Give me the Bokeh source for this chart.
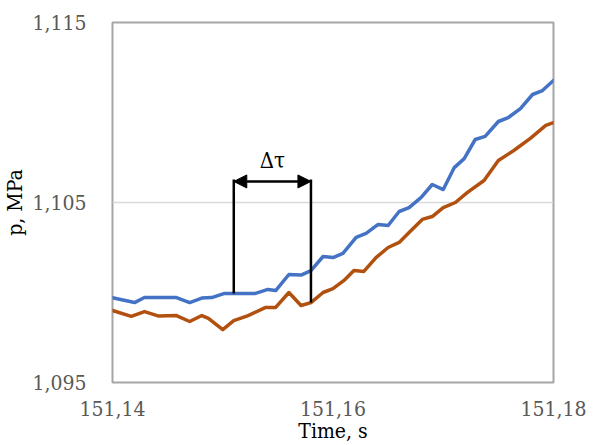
import numpy as np
from bokeh.plotting import figure
from bokeh.models import (ColumnDataSource, FixedTicker, CustomJSTickFormatter,
                          Arrow, NormalHead, Label)
from bokeh.embed import file_html
from bokeh.resources import INLINE

# Pressure traces, time in s, pressure in MPa
t_upper = [151.1400, 151.1420, 151.1429, 151.1458, 151.1470, 151.1481, 151.1490,
           151.1501, 151.1529, 151.1541, 151.1548, 151.1560, 151.1571, 151.1580,
           151.1591, 151.1600, 151.1609, 151.1621, 151.1630, 151.1641, 151.1650,
           151.1660, 151.1669, 151.1680, 151.1690, 151.1700, 151.1710, 151.1719,
           151.1729, 151.1738, 151.1750, 151.1759, 151.1770, 151.1781, 151.1790,
           151.1800]
p_upper = [1.09971, 1.09944, 1.09972, 1.09972, 1.09944, 1.09969, 1.09972,
           1.09994, 1.09994, 1.10017, 1.10011, 1.10100, 1.10097, 1.10122,
           1.10200, 1.10194, 1.10217, 1.10306, 1.10328, 1.10378, 1.10372,
           1.10450, 1.10472, 1.10528, 1.10600, 1.10572, 1.10694, 1.10744,
           1.10850, 1.10867, 1.10950, 1.10972, 1.11022, 1.11100, 1.11122,
           1.11178]

t_lower = [151.1400, 151.1417, 151.1429, 151.1442, 151.1458, 151.1470, 151.1481,
           151.1487, 151.1500, 151.1510, 151.1523, 151.1539, 151.1548, 151.1560,
           151.1571, 151.1580, 151.1591, 151.1600, 151.1610, 151.1619, 151.1628,
           151.1639, 151.1650, 151.1660, 151.1669, 151.1681, 151.1690, 151.1700,
           151.1711, 151.1722, 151.1737, 151.1750, 151.1764, 151.1779, 151.1793,
           151.1800]
p_lower = [1.09900, 1.09867, 1.09894, 1.09869, 1.09872, 1.09839, 1.09872,
           1.09856, 1.09794, 1.09844, 1.09872, 1.09917, 1.09917, 1.10000,
           1.09928, 1.09944, 1.10000, 1.10022, 1.10067, 1.10122, 1.10117,
           1.10194, 1.10250, 1.10278, 1.10333, 1.10406, 1.10422, 1.10472,
           1.10500, 1.10556, 1.10622, 1.10733, 1.10789, 1.10856, 1.10928,
           1.10944]

# Delay marker: starts on the upper trace, ends on the lower trace
tau_start = 151.1510
tau_end = 151.1580
tau_top = 1.10628
tau_arrow = 1.10617
tau_text = 1.10665

x_ticks = [151.14, 151.16, 151.18]
y_ticks = [1.095, 1.105, 1.115]

SERIF = "DejaVu Serif Condensed"

p = figure(width=595, height=445, x_range=(151.14, 151.18), y_range=(1.095, 1.115),
           output_backend="svg", toolbar_location=None,
           min_border_left=111, min_border_right=42, min_border_top=22,
           min_border_bottom=63)

p.background_fill_color = "white"
p.border_fill_color = "white"
p.outline_line_color = "#a6a6a6"
p.outline_line_width = 2

# axes: fixed ticks, decimal comma
p.xaxis.ticker = FixedTicker(ticks=x_ticks)
p.yaxis.ticker = FixedTicker(ticks=y_ticks)
p.xaxis.formatter = CustomJSTickFormatter(code="return tick.toFixed(2).replace('.', ',');")
p.yaxis.formatter = CustomJSTickFormatter(code="return tick.toFixed(3).replace('.', ',');")

for ax in (p.xaxis, p.yaxis):
    ax.axis_line_color = None
    ax.major_tick_line_color = None
    ax.minor_tick_line_color = None
    ax.major_label_text_font = SERIF
    ax.major_label_text_font_size = "21px"
    ax.major_label_text_color = "#595959"
    ax.axis_label_text_font = SERIF
    ax.axis_label_text_font_size = "21px"
    ax.axis_label_text_font_style = "normal"
    ax.axis_label_text_color = "black"

p.xaxis.axis_label = "Time, s"
p.yaxis.axis_label = "p, MPa"
p.xaxis.major_label_standoff = 12
p.yaxis.major_label_standoff = 20
p.xaxis.axis_label_standoff = 0
p.yaxis.axis_label_standoff = 2

p.xgrid.grid_line_color = None
p.ygrid.grid_line_color = "#d9d9d9"
p.ygrid.grid_line_width = 1.5

# traces
src_u = ColumnDataSource(dict(t=t_upper, p=p_upper))
src_l = ColumnDataSource(dict(t=t_lower, p=p_lower))
p.line("t", "p", source=src_l, line_color="#B2510F", line_width=3.5,
       line_join="round", line_cap="round")
p.line("t", "p", source=src_u, line_color="#4472C4", line_width=3.5,
       line_join="round", line_cap="round")

# delay marker
y_start = float(np.interp(tau_start, t_upper, p_upper))
y_end = float(np.interp(tau_end, t_lower, p_lower))
p.segment(x0=[tau_start, tau_end], y0=[y_start, y_end], x1=[tau_start, tau_end],
          y1=[tau_top, tau_top], line_color="black", line_width=2.5)
p.add_layout(Arrow(x_start=tau_start, y_start=tau_arrow, x_end=tau_end, y_end=tau_arrow,
                   line_color="black", line_width=2.5,
                   start=NormalHead(size=13, fill_color="black", line_color="black"),
                   end=NormalHead(size=13, fill_color="black", line_color="black")))
p.add_layout(Label(x=(tau_start + tau_end) / 2, y=tau_text, text="Δτ",
                   text_font=SERIF, text_font_size="22px", text_color="black",
                   text_align="center", text_baseline="bottom"))

open("out.html", "w").write(file_html(p, INLINE))
